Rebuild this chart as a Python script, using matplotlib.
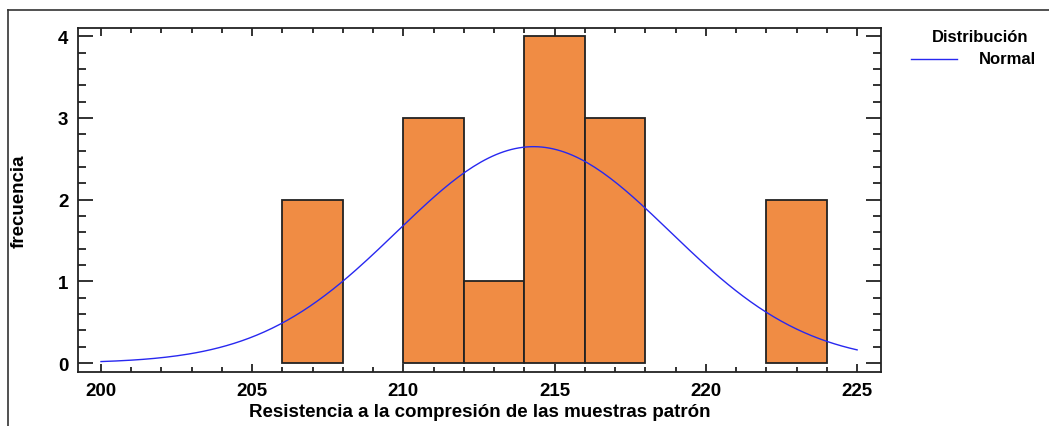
import numpy as np
from matplotlib import pyplot as plt
from matplotlib.lines import Line2D
from matplotlib.ticker import MultipleLocator

plt.rcParams['font.family'] = ['Liberation Sans', 'DejaVu Sans']
plt.rcParams['font.weight'] = 'bold'

# histograma: bordes de clase y frecuencias
bin_left = [206, 210, 212, 214, 216, 222]
frecuencia = [2, 3, 1, 4, 3, 2]
ancho = 2
# parametros de la normal ajustada
media = 214.3
desv = 4.52
x_curva = np.linspace(200, 225, 200)

n = sum(frecuencia)
y_curva = n * ancho * np.exp(-0.5 * ((x_curva - media) / desv) ** 2) / (desv * np.sqrt(2 * np.pi))

fig = plt.figure(figsize=(10.49, 4.27), dpi=100)
ax = fig.add_axes([78 / 1049, 1 - 373 / 427, (881 - 78) / 1049, (373 - 29) / 427])

ax.bar(bin_left, frecuencia, width=ancho, align='edge', color='#F08C44',
       edgecolor='#222222', linewidth=1.3, zorder=2)
ax.plot(x_curva, y_curva, color='#2828F0', linewidth=1.0, zorder=3)

ax.set_xlim(199.24, 225.79)
ax.set_ylim(-0.11, 4.1)
ax.xaxis.set_major_locator(MultipleLocator(5))
ax.xaxis.set_minor_locator(MultipleLocator(1))
ax.yaxis.set_major_locator(MultipleLocator(1))
ax.yaxis.set_minor_locator(MultipleLocator(0.2))
ax.tick_params(which='both', direction='in', top=True, right=True, color='#222222',
               labelsize=13.5, width=1.3)
ax.tick_params(which='major', length=6)
ax.tick_params(which='minor', length=3.5)
ax.tick_params(axis='y', which='major', length=11, pad=7)
ax.tick_params(axis='y', which='minor', length=6)
ax.tick_params(axis='x', which='major', pad=7)
for s in ax.spines.values():
    s.set_linewidth(1.3)
    s.set_color('#222222')

ax.set_xlabel('Resistencia a la compresión de las muestras patrón', fontsize=13.5,
              fontweight='bold', labelpad=3)
ax.set_ylabel('frecuencia', fontsize=13.5, fontweight='bold', labelpad=22)

# leyenda
fig.text(1028 / 1049, 1 - 37 / 427, 'Distribución', ha='right', va='center',
         fontsize=12, fontweight='bold')
fig.text(1036 / 1049, 1 - 60 / 427, 'Normal', ha='right', va='center',
         fontsize=12, fontweight='bold')
fig.add_artist(Line2D([911 / 1049, 957 / 1049], [1 - 60 / 427, 1 - 60 / 427],
                      color='#2828F0', linewidth=1.0))

# marco exterior
fig.add_artist(Line2D([8 / 1049, 1.0], [1 - 11 / 427, 1 - 11 / 427], color='#333333', linewidth=1.2))
fig.add_artist(Line2D([8 / 1049, 8 / 1049], [0, 1 - 11 / 427], color='#333333', linewidth=1.2))

fig.savefig('out.png', dpi=100)
